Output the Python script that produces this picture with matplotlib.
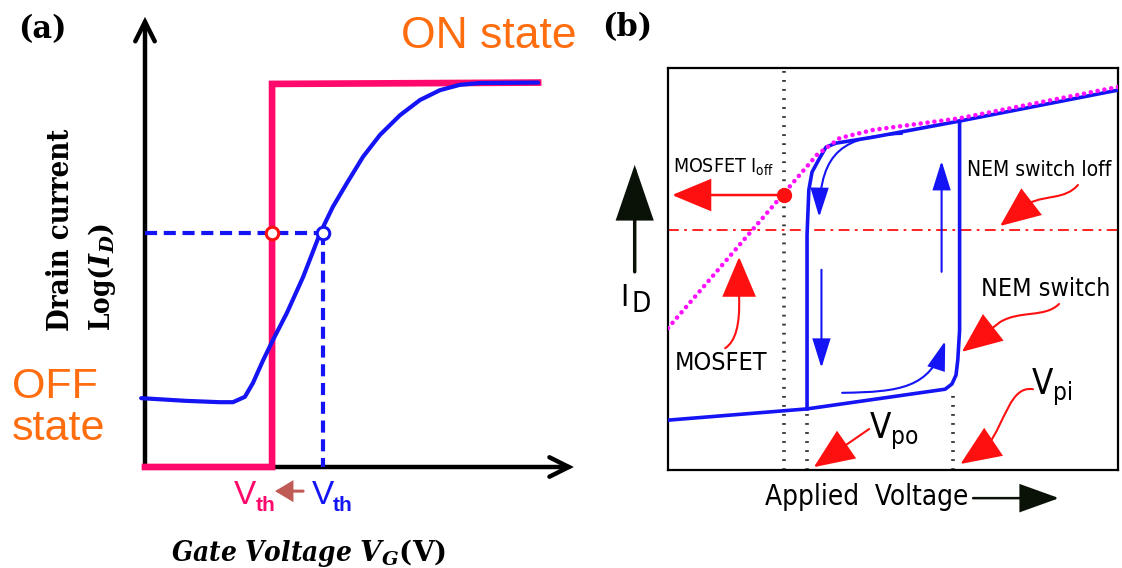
import matplotlib
matplotlib.use("Agg")
import matplotlib.pyplot as plt
from matplotlib.patches import FancyArrowPatch
from matplotlib.path import Path
from matplotlib.transforms import offset_copy

plt.rcParams['mathtext.fontset'] = 'custom'
plt.rcParams['mathtext.rm'] = 'DejaVu Sans:stretch=condensed'
plt.rcParams['mathtext.it'] = 'DejaVu Sans:stretch=condensed:style=italic'
plt.rcParams['mathtext.bf'] = 'DejaVu Sans:stretch=condensed:weight=bold'

# ---------------- data: panel (a) (schematic units) ----------------
ideal_x = [0, 2.99, 2.99, 9.25]
ideal_y = [0, 0, 8.57, 8.60]
mos_x = [-0.09, 0.96, 1.76, 2.07, 2.35, 2.54, 2.78, 3.01, 3.34, 3.72, 4.12, 4.42,
         4.75, 5.13, 5.53, 6.00, 6.47, 6.94, 7.41, 7.88, 9.25]
mos_y = [1.54, 1.48, 1.45, 1.45, 1.57, 1.88, 2.39, 2.84, 3.45, 4.25, 5.23, 5.82,
         6.35, 6.94, 7.43, 7.87, 8.21, 8.43, 8.55, 8.59, 8.60]
vth_ideal = 2.99
vth_mos = 4.19
i_th = 5.23

# ---------------- data: panel (b) (schematic units) ----------------
nem_low_x = [0, 3.09, 6.16, 6.31, 6.40, 6.44, 6.48, 6.48]
nem_low_y = [1.24, 1.52, 2.01, 2.14, 2.36, 2.74, 3.48, 8.68]
nem_up_x = [10, 6.48, 4.56, 3.73, 3.51, 3.36, 3.20, 3.13, 3.09, 3.09]
nem_up_y = [9.45, 8.68, 8.28, 8.13, 8.03, 7.74, 7.41, 6.97, 5.85, 1.52]
mosb_x = [0, 3.31, 3.82, 4.56, 6.48, 10]
mosb_y = [3.53, 7.84, 8.26, 8.46, 8.75, 9.53]
v_mos_off, i_mos_off = 2.58, 6.84
v_po, i_po = 3.09, 1.52
v_pi, i_pi = 6.33, 2.01
i_nem_off = 5.97

PINK = '#ff0a6c'
BLUE = '#1414f5'
ORANGE = '#ff6d0f'
RED = '#ff1010'
BLACK = '#0a1208'

W, H = 1122, 568
fig = plt.figure(figsize=(W / 100, H / 100), dpi=100)


def px_axes(x0, y0, x1, y1):
    return fig.add_axes([x0 / W, 1 - y1 / H, (x1 - x0) / W, (y1 - y0) / H])


def arrow(ax, A=None, B=None, path=None, style='-|>', hl=1.0, hw=0.4, color='k', lw=2, ms=20):
    kw = dict(arrowstyle=f'{style},head_length={hl},head_width={hw}', mutation_scale=ms,
              color=color, lw=lw, clip_on=False, joinstyle='miter')
    if path is not None:
        p = FancyArrowPatch(path=path, **kw)
    else:
        p = FancyArrowPatch(A, B, shrinkA=0, shrinkB=0, **kw)
    ax.add_patch(p)
    return p


def bez(points):
    verts = [points[0]]
    codes = [Path.MOVETO]
    for seg in points[1:]:
        if seg[0] == 'L':
            verts.append(seg[1]); codes.append(Path.LINETO)
        else:
            verts += list(seg); codes += [Path.CURVE4] * 3
    return Path(verts, codes)


def sub_label(ax, x, y, main, sub, size, subsize, dx, dy, color='k', subweight='normal', **kw):
    ax.text(x, y, main, color=color, fontsize=size, va='baseline', ha='left', **kw)
    tr = offset_copy(ax.transData, fig=fig, x=dx, y=dy, units='points')
    ax.text(x, y, sub, color=color, fontsize=subsize, va='baseline', ha='left',
            transform=tr, weight=subweight, **kw)

# =================== panel (a) ===================
axa = px_axes(145, 20, 570, 467)
axa.set_xlim(0, 10)
axa.set_ylim(0, 10)
axa.axis('off')

arrow(axa, (0, 0), (0, 10.07), style='->', hl=0.7, hw=0.35, lw=3.2)
arrow(axa, (0, 0), (10.09, 0), style='->', hl=0.7, hw=0.35, lw=3.2)

axa.plot(ideal_x, ideal_y, color=PINK, lw=4.8, solid_joinstyle='miter', clip_on=False, zorder=3)
axa.plot(mos_x, mos_y, color=BLUE, lw=3, solid_capstyle='round', solid_joinstyle='round',
         clip_on=False, zorder=4)
axa.plot([0, vth_mos], [i_th, i_th], color=BLUE, lw=3, ls=(0, (2.9, 1.6)), clip_on=False, zorder=2)
axa.plot([vth_mos, vth_mos], [i_th, 0], color=BLUE, lw=3, ls=(0, (2.9, 1.6)), clip_on=False, zorder=2)
axa.plot([vth_ideal], [i_th], 'o', ms=9, mfc='white', mec=RED, mew=2.2, zorder=6, clip_on=False)
axa.plot([vth_mos], [i_th], 'o', ms=9, mfc='white', mec=BLUE, mew=2.2, zorder=6, clip_on=False)

sub_label(axa, 2.09, -0.83, 'V', 'th', 24, 15, 15.5, -5, color=PINK,
          subweight='bold', family='Liberation Sans')
sub_label(axa, 3.93, -0.83, 'V', 'th', 24, 15, 15.0, -5, color=BLUE,
          subweight='bold', family='Liberation Sans')
arrow(axa, (3.72, -0.54), (3.06, -0.54), hl=0.5, hw=0.3, color='#c05a55', lw=2.2)

axa.text(6.02, 9.62, 'ON state', color=ORANGE, fontsize=32, family='Liberation Sans',
         va='center', ha='left')
axa.text(-3.13, 1.54, 'OFF', color=ORANGE, fontsize=31, family='Liberation Sans',
         va='baseline', ha='left')
axa.text(-3.13, 0.60, 'state', color=ORANGE, fontsize=31, family='Liberation Sans',
         va='baseline', ha='left')

axa.text(-2.99, 9.78, '(a)', fontsize=22, family='DejaVu Serif', weight='bold',
         va='center', ha='left')
axa.text(-1.98, 3.04, 'Drain current', fontsize=21, family='DejaVu Serif', weight='bold',
         stretch='condensed', rotation=90, rotation_mode='anchor', ha='left', va='center')
axa.text(-1.01, 3.04, r'Log$\mathbf{(}\mathbfit{I}_{\mathbfit{D}}\mathbf{)}$', fontsize=20,
         family='DejaVu Serif', weight='bold', stretch='condensed', math_fontfamily='dejavuserif',
         rotation=90, rotation_mode='anchor', ha='left', va='center')
axa.text(3.84, -1.92, r'Gate Voltage $\mathbfit{V}_{\mathbfit{G}}\mathbf{(V)}$', fontsize=20,
         family='DejaVu Serif', weight='bold', style='italic', stretch='condensed',
         math_fontfamily='dejavuserif', ha='center', va='center')

# =================== panel (b) ===================
axb = px_axes(668, 68, 1118, 470)
axb.set_xlim(0, 10)
axb.set_ylim(0, 10)
axb.set_xticks([])
axb.set_yticks([])
for s in axb.spines.values():
    s.set_linewidth(1.6)

GREY = '#333333'
DOT = (0, (0.5, 2.0))
axb.plot([v_mos_off, v_mos_off], [0, 10], color=GREY, lw=2.6, ls=DOT, zorder=1)
axb.plot([v_po, v_po], [0, i_po], color=GREY, lw=2.6, ls=DOT, zorder=1)
axb.plot([v_pi, v_pi], [0, i_pi], color=GREY, lw=2.6, ls=DOT, zorder=1)
axb.axhline(i_nem_off, color=RED, lw=1.3, ls=(0, (6, 3, 1.5, 3)), zorder=1)

axb.plot(nem_low_x, nem_low_y, color=BLUE, lw=2.6, zorder=3)
axb.plot(nem_up_x, nem_up_y, color=BLUE, lw=2.6, zorder=3)
axb.plot(mosb_x, mosb_y, color='#ff10ff', lw=3.3, ls=(0, (0.01, 1.5)),
         dash_capstyle='round', zorder=4)
axb.plot([v_mos_off], [i_mos_off], 'o', ms=10, color=RED, zorder=5)
arrow(axb, (v_mos_off, i_mos_off), (0.09, i_mos_off), hl=1.25, hw=0.52, color=RED, lw=1.8)

# blue direction arrows
arrow(axb, path=bez([(5.2, 8.36), ((3.93, 8.31), (3.38, 7.96), (3.36, 6.29))]),
      hl=0.9, hw=0.28, color=BLUE, lw=1.5)
arrow(axb, (3.41, 4.98), (3.41, 2.54), hl=0.9, hw=0.28, color=BLUE, lw=1.5)
arrow(axb, (6.08, 4.93), (6.08, 7.69), hl=0.9, hw=0.28, color=BLUE, lw=1.5)
arrow(axb, path=bez([(3.87, 1.92), ((5.16, 1.94), (5.82, 2.04), (6.16, 3.21))]),
      hl=0.9, hw=0.28, color=BLUE, lw=1.5)

# red annotation arrows
arrow(axb, path=bez([(9.11, 7.09), ((8.82, 6.72), (8.38, 6.84), (8.04, 6.64)), ('L', (7.38, 6.07))]),
      hl=1.3, hw=0.55, color=RED, lw=1.5)
arrow(axb, path=bez([(8.69, 4.13), ((8.38, 3.78), (7.82, 3.98), (7.38, 3.68)), ('L', (6.53, 2.94))]),
      hl=1.3, hw=0.55, color=RED, lw=1.5)
arrow(axb, path=bez([(1.27, 3.03), ((1.5, 3.2), (1.6, 3.6), (1.58, 4.3)), ('L', (1.58, 5.30))]),
      hl=1.3, hw=0.55, color=RED, lw=1.5)
arrow(axb, path=bez([(8.11, 2.01), ((7.6, 2.1), (7.5, 1.2), (7.1, 0.6)), ('L', (6.50, 0.15))]),
      hl=1.3, hw=0.55, color=RED, lw=1.5)
arrow(axb, (4.47, 1.02), (3.24, 0.07), hl=1.3, hw=0.55, color=RED, lw=1.5)

# black fat arrows
arrow(axb, (-0.74, 4.93), (-0.74, 7.59), hl=1.75, hw=0.6, color=BLACK, lw=2.5)
arrow(axb, (6.78, -0.70), (8.69, -0.70), hl=1.25, hw=0.45, color=BLACK, lw=1.8)

SN = dict(family='DejaVu Sans', stretch='condensed')
axb.text(0.11, 7.54, r'MOSFET I$_{\mathrm{off}}$', fontsize=14, va='center', ha='left', **SN)
axb.text(6.64, 7.46, 'NEM switch Ioff', fontsize=15, va='center', ha='left', **SN)
axb.text(6.96, 4.50, 'NEM switch', fontsize=18, va='center', ha='left', **SN)
axb.text(0.16, 2.66, 'MOSFET', fontsize=18, va='center', ha='left', **SN)
axb.text(8.07, 2.05, r'V$_{\mathrm{pi}}$', fontsize=25, va='center', ha='left', **SN)
axb.text(4.47, 0.95, r'V$_{\mathrm{po}}$', fontsize=25, va='center', ha='left', **SN)
sub_label(axb, -1.07, 4.08, 'I', 'D', 22, 20, 8.5, -4.5, **SN)
axb.text(2.16, -0.67, 'Applied  Voltage', fontsize=20, va='center', ha='left', **SN)
axb.text(-1.47, 11.0, '(b)', fontsize=22, family='DejaVu Serif', weight='bold',
         va='center', ha='left')

fig.savefig('out.png', dpi=100)
